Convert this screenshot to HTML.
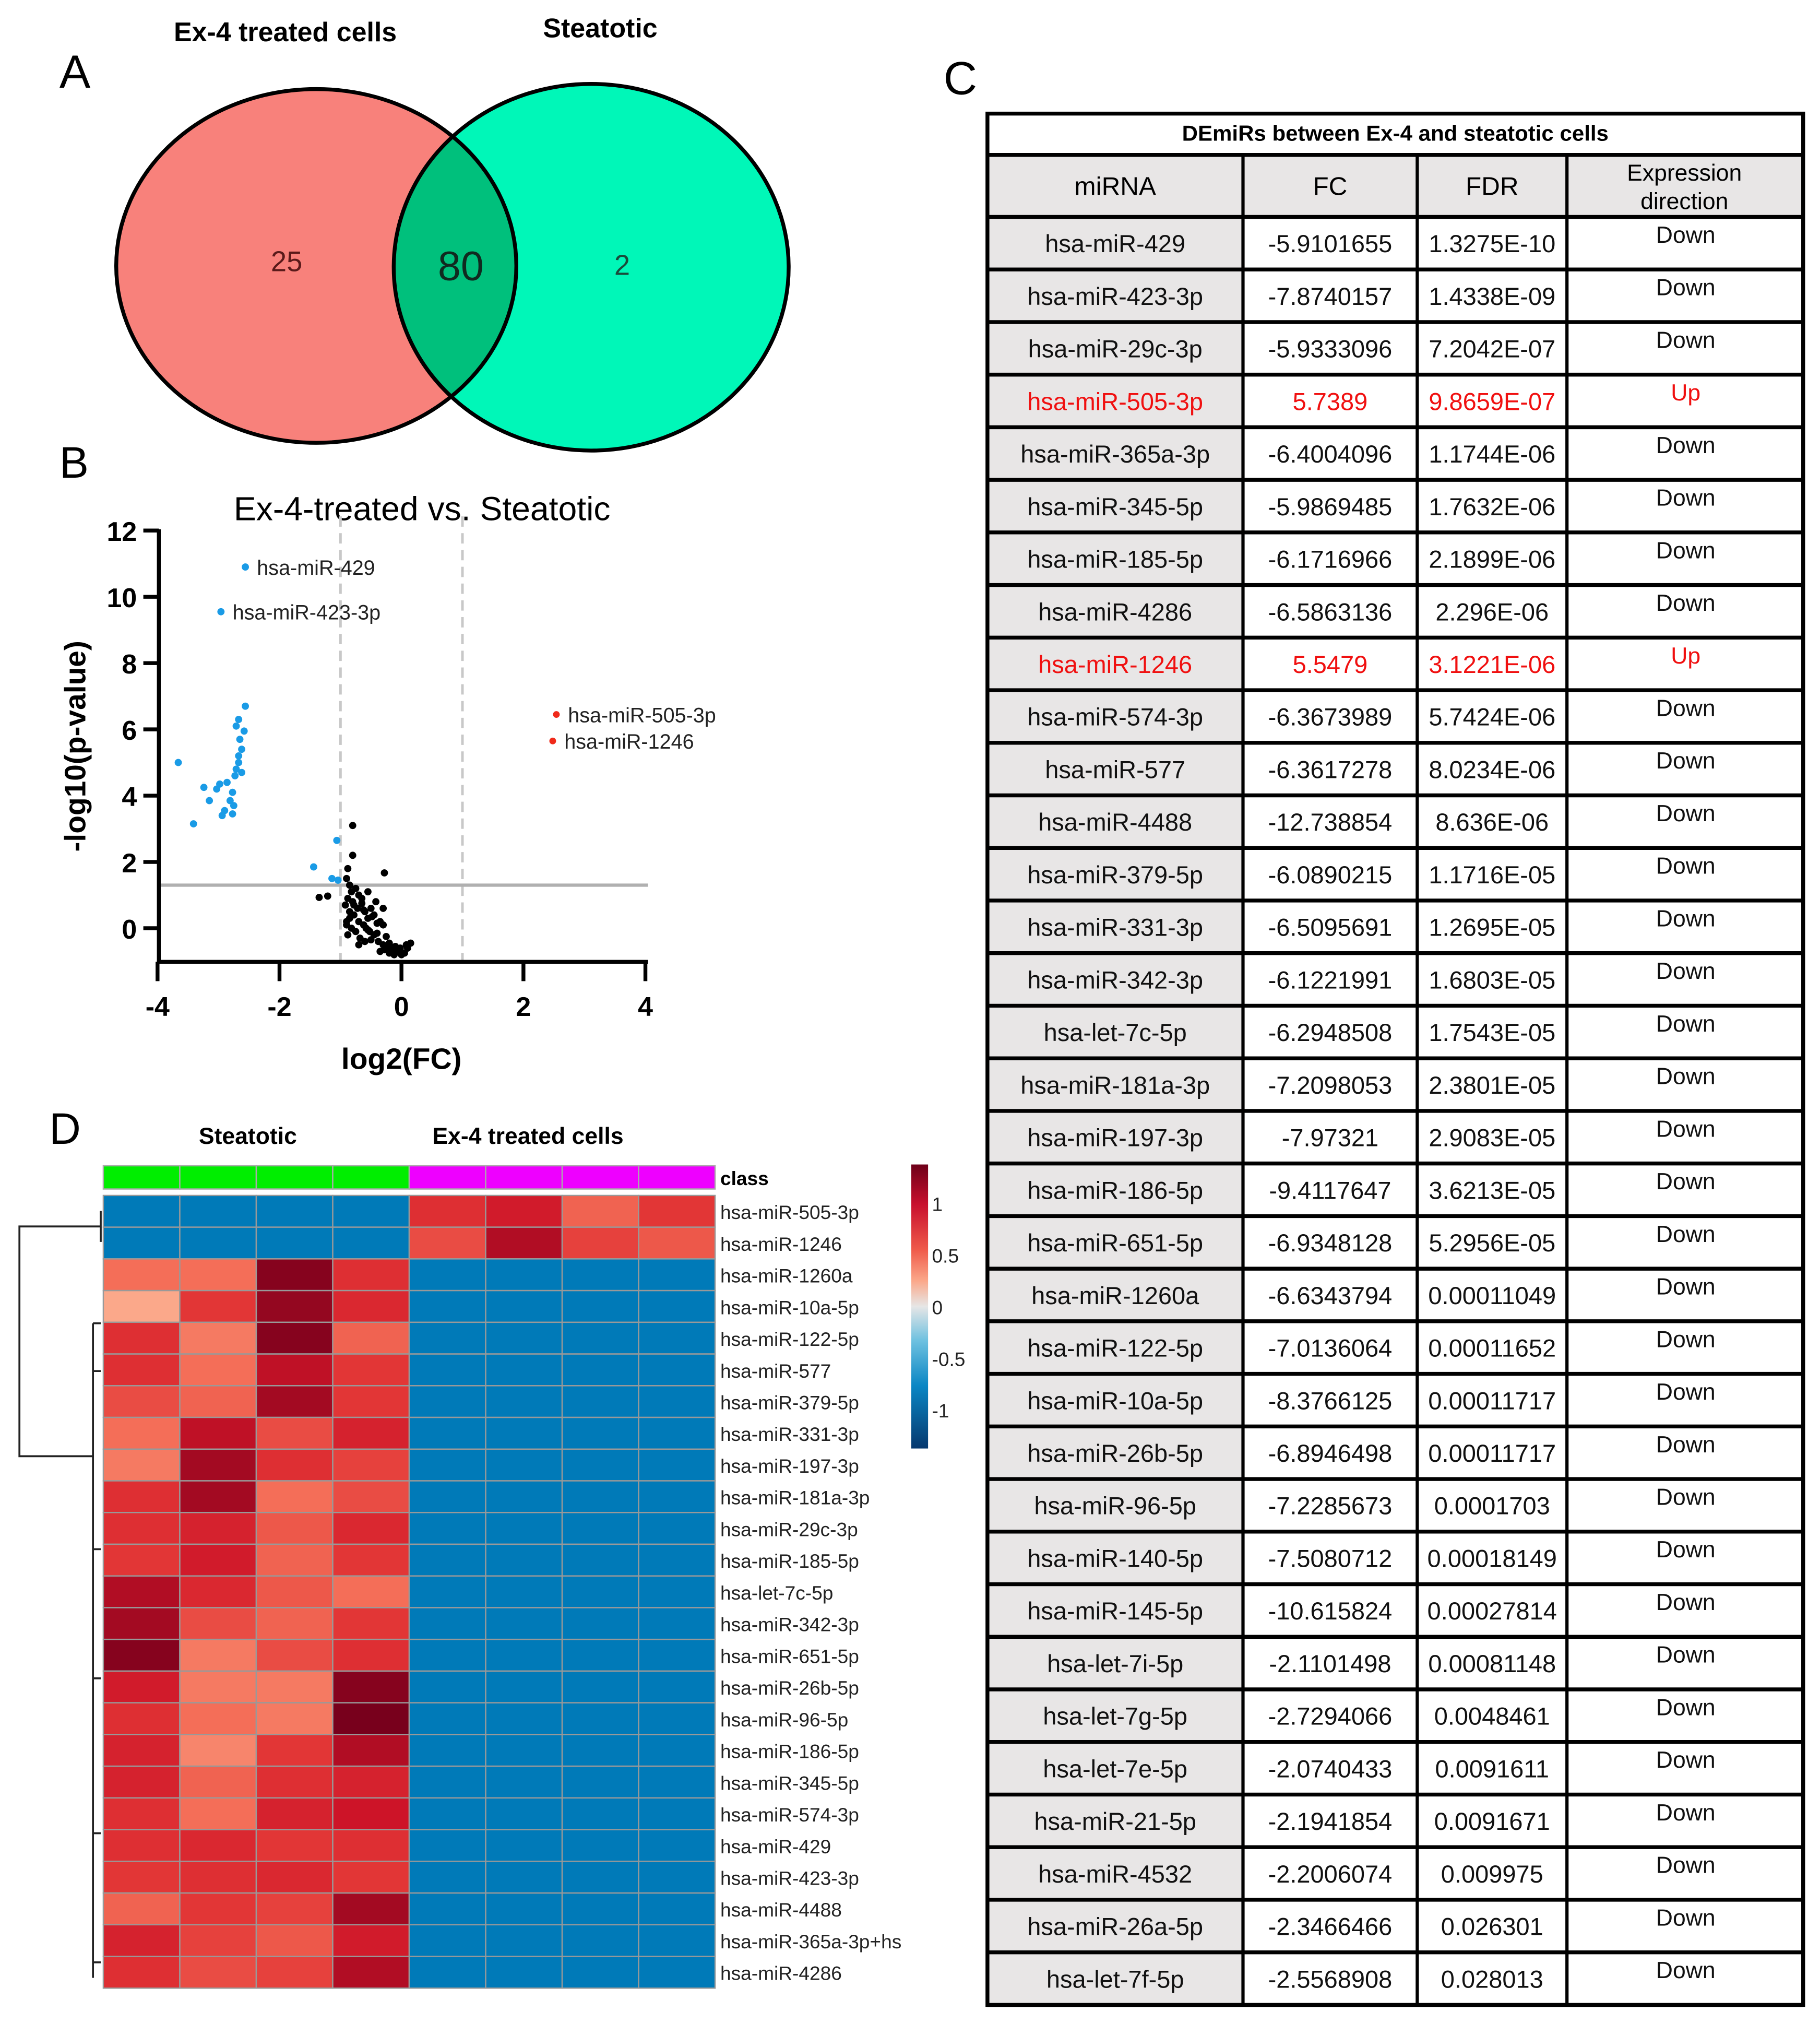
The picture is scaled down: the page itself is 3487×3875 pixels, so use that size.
<!DOCTYPE html>
<html><head><meta charset="utf-8">
<style>
html,body{margin:0;padding:0;background:#fff;}
svg{display:block;}
text{font-family:"Liberation Sans",sans-serif;}
</style></head>
<body>
<svg id="fig" width="3487" height="3875" viewBox="0 0 1410 1567" xmlns="http://www.w3.org/2000/svg">
<defs>
<clipPath id="leftClip"><ellipse cx="245" cy="206" rx="155" ry="137"/></clipPath>
<linearGradient id="cbar" x1="0" y1="0" x2="0" y2="1">
<stop offset="0" stop-color="#6e0019"/><stop offset="0.14" stop-color="#c8102e"/>
<stop offset="0.3" stop-color="#ef5a4a"/><stop offset="0.41" stop-color="#fba88a"/>
<stop offset="0.5" stop-color="#e6e6e6"/><stop offset="0.62" stop-color="#6ec1e0"/>
<stop offset="0.78" stop-color="#0a86c4"/><stop offset="1" stop-color="#06386e"/>
</linearGradient>
</defs>
<!-- Panel A -->
<text x="46" y="68" font-size="36">A</text>
<text x="221" y="32" font-size="21" font-weight="bold" text-anchor="middle">Ex-4 treated cells</text>
<text x="465" y="29" font-size="21" font-weight="bold" text-anchor="middle">Steatotic</text>
<g>
<ellipse cx="245" cy="206" rx="155" ry="137" fill="#f8817b"/>
<ellipse cx="458" cy="207" rx="153" ry="142" fill="#00f7b8"/>
<ellipse cx="458" cy="207" rx="153" ry="142" fill="#00c07c" clip-path="url(#leftClip)"/>
<ellipse cx="245" cy="206" rx="155" ry="137" fill="none" stroke="#000" stroke-width="3"/>
<ellipse cx="458" cy="207" rx="153" ry="142" fill="none" stroke="#000" stroke-width="3"/>
<text x="222" y="210" font-size="22" text-anchor="middle" fill="#5a1a1a">25</text>
<text x="357" y="217" font-size="32" text-anchor="middle" fill="#102a20">80</text>
<text x="482" y="213" font-size="22" text-anchor="middle" fill="#1a4a3a">2</text>
</g>
<!-- Panel B -->
<text x="46" y="370" font-size="34">B</text>
<text x="327" y="403" font-size="26" text-anchor="middle">Ex-4-treated vs. Steatotic</text>
<g id="volcano"></g>
<!-- Panel C -->
<text x="731" y="73" font-size="36">C</text>
<g id="table"></g>
<!-- Panel D -->
<text x="38" y="886" font-size="34">D</text>
<text x="192" y="886" font-size="18" font-weight="bold" text-anchor="middle">Steatotic</text>
<text x="409" y="886" font-size="18" font-weight="bold" text-anchor="middle">Ex-4 treated cells</text>
<g id="heatmap"></g>
</svg>
<script>
// ---------- Volcano data ----------
const blueX = [-2.56,-2.96,-3.66,-2.56,-2.67,-2.71,-2.58,-2.65,-2.62,-2.67,-2.67,-2.71,-2.62,-2.73,-2.86,-2.98,-3.24,-3.03,-2.77,-2.81,-2.9,-2.77,-2.94,-3.41,-3.15,-2.75,-1.44,-1.06,-1.14,-1.04];
const blueY = [10.9,9.55,5.0,6.7,6.3,6.1,5.95,5.7,5.4,5.2,5.0,4.8,4.7,4.6,4.4,4.35,4.25,4.2,4.1,3.85,3.55,3.45,3.4,3.15,3.85,3.7,1.85,2.65,1.5,1.45];
const redX = [2.54,2.48];
const redY = [6.45,5.65];
const blackX = [-0.8,-0.8,-0.28,-0.88,-1.35,-1.21,-0.9,-0.85,-0.82,-0.75,-0.7,-0.88,-0.92,-0.8,-0.72,-0.65,-0.6,-0.78,-0.85,-0.9,-0.7,-0.62,-0.55,-0.5,-0.45,-0.75,-0.82,-0.88,-0.68,-0.58,-0.52,-0.4,-0.35,-0.3,-0.45,-0.5,-0.6,-0.7,-0.85,-0.9,-0.78,-0.65,-0.55,-0.42,-0.38,-0.3,-0.25,-0.2,-0.15,-0.1,-0.05,0.0,0.05,0.1,0.15,-0.35,-0.28,-0.2,-0.12,-0.08,-0.02,-0.55,-0.62,-0.4,-0.48,-0.3,-0.22,0.08];
const blackY = [3.1,2.2,1.67,1.8,0.93,0.97,1.5,1.3,1.1,1.2,1.0,0.9,0.7,0.8,0.6,0.75,0.5,0.4,0.3,0.2,0.2,0.1,0.3,0.6,0.4,-0.1,0.0,-0.2,-0.3,0.0,-0.1,0.15,0.2,0.6,-0.2,-0.35,-0.4,-0.5,0.5,0.1,0.7,0.9,1.1,0.8,-0.4,-0.5,-0.25,-0.45,-0.6,-0.55,-0.7,-0.8,-0.75,-0.6,-0.45,-0.7,-0.65,-0.75,-0.8,-0.7,-0.6,-0.05,0.55,-0.15,0.35,0.1,-0.55,-0.5];
const labelNames = ["hsa-miR-429","hsa-miR-423-3p","hsa-miR-505-3p","hsa-miR-1246"];
const labelX = [-2.56,-2.96,2.54,2.48];
const labelY = [10.9,9.55,6.45,5.65];
const xTicks = [-4,-2,0,2,4];
const yTicks = [0,2,4,6,8,10,12];

const NS = "http://www.w3.org/2000/svg";
function mk(tag, attrs, parent){const e=document.createElementNS(NS,tag);for(const k in attrs)e.setAttribute(k,attrs[k]);parent.appendChild(e);return e;}
const vx = v => 311 + v*47.25;
const vy = v => 719 - v*25.67;
const V = document.getElementById('volcano');
let g;
g = mk('line',{x1:vx(-1),x2:vx(-1),y1:400,y2:745,stroke:'#c8c8c8','stroke-width':2,'stroke-dasharray':'8,5'},V);


g = mk('line',{x1:vx(1),x2:vx(1),y1:400,y2:745,stroke:'#c8c8c8','stroke-width':2,'stroke-dasharray':'8,5'},V);


g = mk('line',{x1:124,x2:502,y1:vy(1.3),y2:vy(1.3),stroke:'#b0b0b0','stroke-width':2.5},V);


g = mk('line',{x1:123,x2:123,y1:vy(12)-1,y2:746,stroke:'#000','stroke-width':3},V);


g = mk('line',{x1:122,x2:502,y1:745,y2:745,stroke:'#000','stroke-width':3},V);


xTicks.forEach(t=>{
  mk('line',{x1:vx(t),x2:vx(t),y1:745,y2:760,stroke:'#000','stroke-width':3},V);
  const tx = mk('text',{x:vx(t),y:787,'font-size':21,'font-weight':'bold','text-anchor':'middle'},V);
  tx.textContent = t;
  
  
});
yTicks.forEach(t=>{
  mk('line',{x1:111,x2:123,y1:vy(t),y2:vy(t),stroke:'#000','stroke-width':3},V);
  const tx = mk('text',{x:106,y:vy(t)+8,'font-size':21,'font-weight':'bold','text-anchor':'end'},V);
  tx.textContent = t;
  
  
});
let yl = mk('text',{x:0,y:0,'font-size':23,'font-weight':'bold','text-anchor':'middle',transform:'translate(66,578) rotate(-90)'},V);
yl.textContent='-log10(p-value)';


let xl = mk('text',{x:311,y:828,'font-size':23,'font-weight':'bold','text-anchor':'middle'},V);
xl.textContent='log2(FC)';


blackX.forEach((x,i)=>{const c=mk('circle',{cx:vx(x),cy:vy(blackY[i]),r:2.8,fill:'#000'},V);
  
  });
blueX.forEach((x,i)=>{const c=mk('circle',{cx:vx(x),cy:vy(blueY[i]),r:2.8,fill:'#1a9be6'},V);
  
  });
redX.forEach((x,i)=>{const c=mk('circle',{cx:vx(x),cy:vy(redY[i]),r:2.6,fill:'#f02a1a'},V);
  
  });
labelNames.forEach((n,i)=>{const t=mk('text',{x:vx(labelX[i])+9,y:vy(labelY[i])+6,'font-size':16,fill:'#222'},V);
  t.textContent=n;
  
  });

// ---------- Table ----------
const tMirna = ["hsa-miR-429","hsa-miR-423-3p","hsa-miR-29c-3p","hsa-miR-505-3p","hsa-miR-365a-3p","hsa-miR-345-5p","hsa-miR-185-5p","hsa-miR-4286","hsa-miR-1246","hsa-miR-574-3p","hsa-miR-577","hsa-miR-4488","hsa-miR-379-5p","hsa-miR-331-3p","hsa-miR-342-3p","hsa-let-7c-5p","hsa-miR-181a-3p","hsa-miR-197-3p","hsa-miR-186-5p","hsa-miR-651-5p","hsa-miR-1260a","hsa-miR-122-5p","hsa-miR-10a-5p","hsa-miR-26b-5p","hsa-miR-96-5p","hsa-miR-140-5p","hsa-miR-145-5p","hsa-let-7i-5p","hsa-let-7g-5p","hsa-let-7e-5p","hsa-miR-21-5p","hsa-miR-4532","hsa-miR-26a-5p","hsa-let-7f-5p"];
const tFC = ["-5.9101655","-7.8740157","-5.9333096","5.7389","-6.4004096","-5.9869485","-6.1716966","-6.5863136","5.5479","-6.3673989","-6.3617278","-12.738854","-6.0890215","-6.5095691","-6.1221991","-6.2948508","-7.2098053","-7.97321","-9.4117647","-6.9348128","-6.6343794","-7.0136064","-8.3766125","-6.8946498","-7.2285673","-7.5080712","-10.615824","-2.1101498","-2.7294066","-2.0740433","-2.1941854","-2.2006074","-2.3466466","-2.5568908"];
const tFDR = ["1.3275E-10","1.4338E-09","7.2042E-07","9.8659E-07","1.1744E-06","1.7632E-06","2.1899E-06","2.296E-06","3.1221E-06","5.7424E-06","8.0234E-06","8.636E-06","1.1716E-05","1.2695E-05","1.6803E-05","1.7543E-05","2.3801E-05","2.9083E-05","3.6213E-05","5.2956E-05","0.00011049","0.00011652","0.00011717","0.00011717","0.0001703","0.00018149","0.00027814","0.00081148","0.0048461","0.0091611","0.0091671","0.009975","0.026301","0.028013"];
const tDir = tFC.map(v=>parseFloat(v)>0?"Up":"Down");
const T = document.getElementById('table');
const colX=[765,963,1098,1214,1397];
const top0=88, hdr1=120, hdr2=168, bottom=1553;
const rh=(bottom-hdr2)/tMirna.length;
mk('rect',{x:765,y:hdr1,width:632,height:hdr2-hdr1,fill:'#e8e6e6'},T);
mk('rect',{x:765,y:hdr2,width:198,height:bottom-hdr2,fill:'#e8e6e6'},T);
let tt = mk('text',{x:1081,y:109,'font-size':17,'font-weight':'bold','text-anchor':'middle'},T);
tt.textContent='DEmiRs between Ex-4 and steatotic cells';


const heads=["miRNA","FC","FDR"];
heads.forEach((h,i)=>{const t=mk('text',{x:(colX[i]+colX[i+1])/2,y:151,'font-size':20,'text-anchor':'middle'},T);
  t.textContent=h;
  
  });
let e1=mk('text',{x:1305,y:140,'font-size':18,'text-anchor':'middle'},T);e1.textContent='Expression';


let e2=mk('text',{x:1305,y:162,'font-size':18,'text-anchor':'middle'},T);e2.textContent='direction';


tMirna.forEach((m,i)=>{
  const y0=hdr2+i*rh, col=tDir[i]==="Up"?'#f01010':'#111';
  const vals=[m,tFC[i],tFDR[i]];
  vals.forEach((v,j)=>{const t=mk('text',{x:(colX[j]+colX[j+1])/2,y:y0+rh/2+7,'font-size':19,'text-anchor':'middle',fill:col},T);
    t.textContent=v;
    
    });
  const d=mk('text',{x:1306,y:y0+20,'font-size':18,'text-anchor':'middle',fill:col},T);
  d.textContent=tDir[i];
  
  
});
mk('rect',{x:765,y:top0,width:632,height:bottom-top0,fill:'none',stroke:'#000','stroke-width':3},T);
mk('line',{x1:765,x2:1397,y1:hdr1,y2:hdr1,stroke:'#000','stroke-width':3},T);
for(let i=0;i<=tMirna.length;i++){const y=hdr2+i*rh;mk('line',{x1:765,x2:1397,y1:y,y2:y,stroke:'#000','stroke-width':3},T);}
for(let j=1;j<4;j++){mk('line',{x1:colX[j],x2:colX[j],y1:hdr1,y2:bottom,stroke:'#000','stroke-width':2.5},T);}

// ---------- Heatmap ----------
const hmRows = ["hsa-miR-505-3p","hsa-miR-1246","hsa-miR-1260a","hsa-miR-10a-5p","hsa-miR-122-5p","hsa-miR-577","hsa-miR-379-5p","hsa-miR-331-3p","hsa-miR-197-3p","hsa-miR-181a-3p","hsa-miR-29c-3p","hsa-miR-185-5p","hsa-let-7c-5p","hsa-miR-342-3p","hsa-miR-651-5p","hsa-miR-26b-5p","hsa-miR-96-5p","hsa-miR-186-5p","hsa-miR-345-5p","hsa-miR-574-3p","hsa-miR-429","hsa-miR-423-3p","hsa-miR-4488","hsa-miR-365a-3p+hs","hsa-miR-4286"];
const hmClass = ["Steatotic","Steatotic","Steatotic","Steatotic","Ex-4","Ex-4","Ex-4","Ex-4"];
const hmValues = [
[-1,-1,-1,-1,0.85,1.0,0.6,0.8],
[-1,-1,-1,-1,0.7,1.15,0.75,0.65],
[0.55,0.55,1.3,0.85,-1,-1,-1,-1],
[0.3,0.8,1.25,0.9,-1,-1,-1,-1],
[0.85,0.5,1.3,0.6,-1,-1,-1,-1],
[0.85,0.55,1.1,0.8,-1,-1,-1,-1],
[0.7,0.6,1.2,0.8,-1,-1,-1,-1],
[0.55,1.1,0.7,0.95,-1,-1,-1,-1],
[0.5,1.2,0.85,0.75,-1,-1,-1,-1],
[0.85,1.2,0.55,0.7,-1,-1,-1,-1],
[0.85,0.95,0.65,0.9,-1,-1,-1,-1],
[0.8,1.0,0.6,0.8,-1,-1,-1,-1],
[1.15,0.9,0.65,0.55,-1,-1,-1,-1],
[1.2,0.7,0.6,0.8,-1,-1,-1,-1],
[1.3,0.5,0.7,0.85,-1,-1,-1,-1],
[1.0,0.5,0.5,1.3,-1,-1,-1,-1],
[0.85,0.55,0.5,1.35,-1,-1,-1,-1],
[0.95,0.45,0.8,1.15,-1,-1,-1,-1],
[0.95,0.6,0.85,0.95,-1,-1,-1,-1],
[0.85,0.55,0.95,1.05,-1,-1,-1,-1],
[0.85,0.9,0.8,0.85,-1,-1,-1,-1],
[0.8,0.85,0.9,0.8,-1,-1,-1,-1],
[0.6,0.8,0.75,1.2,-1,-1,-1,-1],
[0.95,0.75,0.65,1.0,-1,-1,-1,-1],
[0.85,0.7,0.75,1.15,-1,-1,-1,-1]];
const cbTicks = [1,0.5,0,-0.5,-1];

const stops=[[-1.4,[6,56,110]],[-1,[0,122,184]],[-0.5,[90,180,220]],[0,[230,230,230]],[0.3,[251,168,138]],[0.55,[244,110,88]],[0.8,[226,54,54]],[1.05,[205,20,40]],[1.35,[120,0,28]]];
function colorOf(v){
  if(v<=stops[0][0])return 'rgb('+stops[0][1]+')';
  for(let i=1;i<stops.length;i++){if(v<=stops[i][0]){const a=stops[i-1],b=stops[i],t=(v-a[0])/(b[0]-a[0]);
    return 'rgb('+a[1].map((c,k)=>Math.round(c+(b[1][k]-c)*t)).join(',')+')';}}
  return 'rgb('+stops[stops.length-1][1]+')';
}
const H=document.getElementById('heatmap');
const hx0=80, hx1=554, cw=(hx1-hx0)/hmClass.length, hy0=926, hy1=1540, chh=(hy1-hy0)/hmRows.length;
hmClass.forEach((c,j)=>{const rr=mk('rect',{x:hx0+j*cw,y:903,width:cw,height:18,fill:c==="Steatotic"?'#00ee00':'#ee00ff',stroke:'#aaa','stroke-width':1},H);
  
  });
let cl=mk('text',{x:558,y:918,'font-size':15,'font-weight':'bold'},H);cl.textContent='class';


hmRows.forEach((n,i)=>{
  hmValues[i].forEach((v,j)=>{const rr=mk('rect',{x:hx0+j*cw,y:hy0+i*chh,width:cw,height:chh,fill:colorOf(v),stroke:'#999','stroke-width':1},H);
    
    });
  const t=mk('text',{x:558,y:hy0+i*chh+chh/2+6,'font-size':15,fill:'#222'},H);
  t.textContent=n;
  
  
});
const dg=mk('g',{stroke:'#222','stroke-width':1.5,fill:'none'},H);


mk('path',{d:'M78,938 L78,962 M78,950 L15,950 L15,1128 L72,1128'},dg);
mk('path',{d:'M72,1025 L72,1532 M72,1025 L78,1025 M72,1062 L78,1062 M72,1200 L78,1200 M72,1300 L78,1300 M72,1420 L78,1420 M72,1520 L78,1520'},dg);
const cb=mk('rect',{x:706,y:902,width:13,height:220,fill:'url(#cbar)'},H);


cbTicks.forEach(t=>{const tx=mk('text',{x:722,y:1012-t*80+6,'font-size':15,fill:'#222'},H);
  tx.textContent=t;
  
  });
</script>
</body></html>
